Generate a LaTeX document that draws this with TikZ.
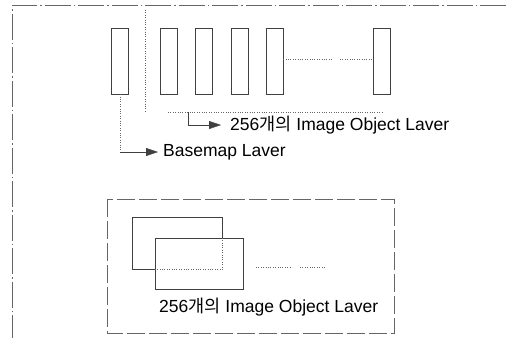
\documentclass[tikz,border=0pt]{standalone}
\usepackage{fontspec}
\setmainfont{Liberation Sans}
\newfontfamily\kor{Noto Sans CJK KR}
\usetikzlibrary{arrows.meta,positioning}

\begin{document}
\begin{tikzpicture}[x=1pt,y=-1pt,>={Triangle[length=12pt,width=8pt]},
  layer/.style={draw=black!75,minimum width=17pt,minimum height=66pt,inner sep=0pt},
  frame/.style={draw=black!60,dash pattern=on 26pt off 3pt on 1.5pt off 3pt},
  hidden/.style={draw=black!60,dotted},
  lbl/.style={font=\fontsize{17.5}{19}\selectfont,anchor=west,inner sep=0pt}]
  \useasboundingbox (0,0) rectangle (506,338);
  % outer frame (only top and left edges visible)
  \draw[frame] (506,5) -- (12,5) -- (12,338);
  % basemap and object layers
  \node[layer] (base) at (120,61) {};
  \node[layer] (obj1) at (168.5,61) {};
  \node[layer] (obj2) at (203.5,61) {};
  \node[layer] (obj3) at (239.5,61) {};
  \node[layer] (obj4) at (274.5,61) {};
  \node[layer] (objn) at (382,61) {};
  \draw[hidden] (obj4.east |- 0,59) -- (333,59);
  \draw[hidden] (340,59) -- (objn.west |- 0,59);
  % separator and grouping line
  \draw[hidden] (145,10) -- (145,112);
  \draw[hidden] (168,112) -- (382,112);
  % labels
  \node[lbl] (objtxt) at (230,125) {256{\kor 개의} Image Object Laver};
  \node[lbl] (basetxt) at (163,152) {Basemap Laver};
  \coordinate (objbr) at (188,112);
  \draw[black!75,->] (objbr) |- ([xshift=-9pt]objtxt.west);
  \draw[hidden] (base.south) -- (base.south |- basetxt);
  \draw[black!75,->] (base.south |- basetxt) -- ([xshift=-5pt]basetxt.west);
  % stacked layers below
  \draw[draw=black!60,dash pattern=on 18pt off 4pt] (107,199) rectangle (394,333);
  \node[draw=black!75,minimum width=90pt,minimum height=52pt,inner sep=0pt] (back) at (177,243) {};
  \node[draw=black!75,fill=white,minimum width=88pt,minimum height=51pt,inner sep=0pt] (front) at (199,263.5) {};
  \draw[hidden] (back.east |- front.north) -- (back.south east) -- (back.south -| front.west);
  \draw[hidden] (256,267) -- (292,267);
  \draw[hidden] (300,267) -- (325,267);
  \node[lbl] (stacktxt) at (159,307) {256{\kor 개의} Image Object Laver};
\end{tikzpicture}
\end{document}
